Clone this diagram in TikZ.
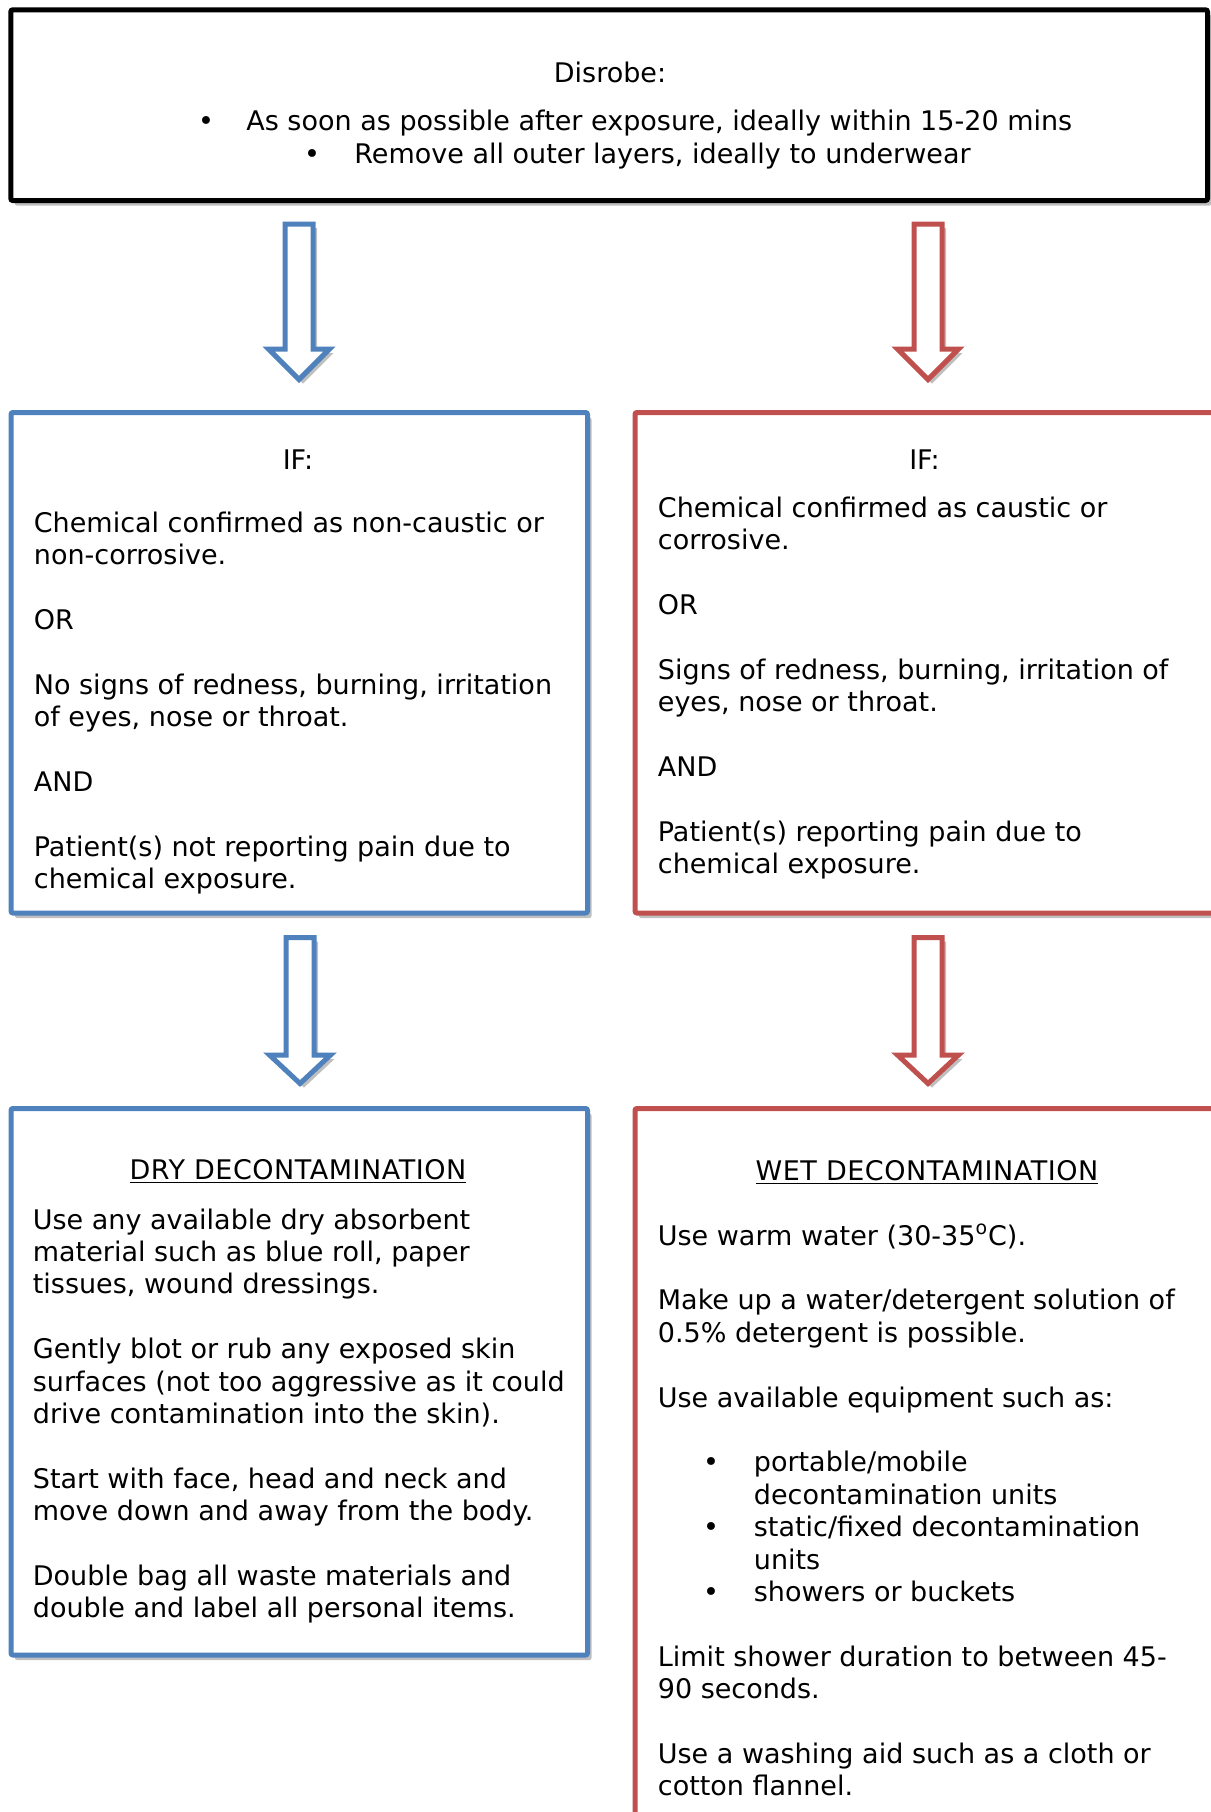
\documentclass[tikz,border=0pt]{standalone}
\usepackage{fontspec}
\setmainfont{DejaVu Sans}
\usetikzlibrary{shadows}
\definecolor{oblue}{HTML}{4F81BD}
\definecolor{ored}{HTML}{C0504D}
\newcommand\diagfont{\fontsize{13.5pt}{16.2pt}\selectfont}
\newcommand\pgap{\\[16.2pt]}
\newcommand\wbul{\hspace*{22.6pt}\makebox[25.4pt][l]{•}}
\newcommand\wind{\hspace*{48pt}}
\newcommand\barrow[5]{%
  \draw[arr, draw=#5] ({#1-14},#2) -- ({#1+14},#2) -- ({#1+14},#3) -- ({#1+30.5},#3)
    -- (#1,#4) -- ({#1-30.5},#3) -- ({#1-14},#3) -- cycle;}
\begin{document}
\begin{tikzpicture}[x=0.5pt,y=-0.5pt,
  box/.style={line width=2.5pt, fill=white, rounded corners=1pt,
    drop shadow={shadow xshift=2pt,shadow yshift=-2.5pt,opacity=0.25,fill=black}},
  arr/.style={line width=2.5pt, fill=white, line join=miter,
    drop shadow={shadow xshift=2pt,shadow yshift=-2pt,opacity=0.25,fill=black}},
  txt/.style={inner sep=0pt, anchor=base west, font=\diagfont},
  ctxt/.style={inner sep=0pt, anchor=base, font=\diagfont},
  ttl/.style={inner sep=0pt, anchor=base, font=\diagfont\addfontfeature{LetterSpace=2}}]
\path[use as bounding box, clip] (0,0) rectangle (1211,1812);
\fill[white] (0,0) rectangle (1211,1812);

% top box
\draw[box, draw=black] (10.8,9.8) rectangle (1207.5,200.5);
\node[ctxt] (dis) at (610,82) {Disrobe:};
\node[ctxt] (bd1) at (206,130) {•};
\node[txt] (b1) at (246,130) {As soon as possible after exposure, ideally within 15-20 mins};
\node[ctxt] (bd2) at (312,163) {•};
\node[txt] (b2) at (354,163) {Remove all outer layers, ideally to underwear};

% arrows row 1
\barrow{299}{224}{349}{379.5}{oblue}
\barrow{928}{224}{349}{379.5}{ored}

% condition boxes
\draw[box, draw=oblue] (11,412.5) rectangle (587.5,913);
\draw[box, draw=ored] (635,412.5) rectangle (1260,913);

\node[ctxt] (if1) at (298,469) {IF:};
\node[txt] (c1) at (33.5,532) {\parbox[t]{320pt}{Chemical confirmed as non-caustic or\\
non-corrosive.\pgap OR\pgap No signs of redness, burning, irritation\\
of eyes, nose or throat.\pgap AND\pgap Patient(s) not reporting pain due to\\
chemical exposure.}};

\node[ctxt] (if2) at (924.5,469) {IF:};
\node[txt] (c2) at (657.5,517) {\parbox[t]{320pt}{Chemical confirmed as caustic or\\
corrosive.\pgap OR\pgap Signs of redness, burning, irritation of\\
eyes, nose or throat.\pgap AND\pgap Patient(s) reporting pain due to\\
chemical exposure.}};

% arrows row 2
\barrow{300}{937.5}{1055}{1083.5}{oblue}
\barrow{928}{937.5}{1055}{1083.5}{ored}

% decontamination boxes
\draw[box, draw=oblue] (11,1108.5) rectangle (587.5,1655);
\draw[box, draw=ored] (635,1108.5) rectangle (1260,1900);

\node[ttl] (dry) at (298,1179) {\underline{DRY DECONTAMINATION}};
\node[txt] (d1) at (32.5,1229) {\parbox[t]{320pt}{Use any available dry absorbent\\
material such as blue roll, paper\\
tissues, wound dressings.\pgap Gently blot or rub any exposed skin\\
surfaces (not too aggressive as it could\\
drive contamination into the skin).\pgap Start with face, head and neck and\\
move down and away from the body.\pgap Double bag all waste materials and\\
double and label all personal items.}};

\node[ttl] (wet) at (927,1180) {\underline{WET DECONTAMINATION}};
\node[txt] (w1) at (657.5,1245) {\parbox[t]{320pt}{Use warm water (30-35\textsuperscript{o}C).\pgap
Make up a water/detergent solution of\\
0.5\% detergent is possible.\pgap Use available equipment such as:\pgap
\wbul portable/mobile\\
\wind decontamination units\\
\wbul static/fixed decontamination\\
\wind units\\
\wbul showers or buckets\pgap Limit shower duration to between 45-\\
90 seconds.\pgap Use a washing aid such as a cloth or\\
cotton flannel.}};
\end{tikzpicture}
\end{document}
